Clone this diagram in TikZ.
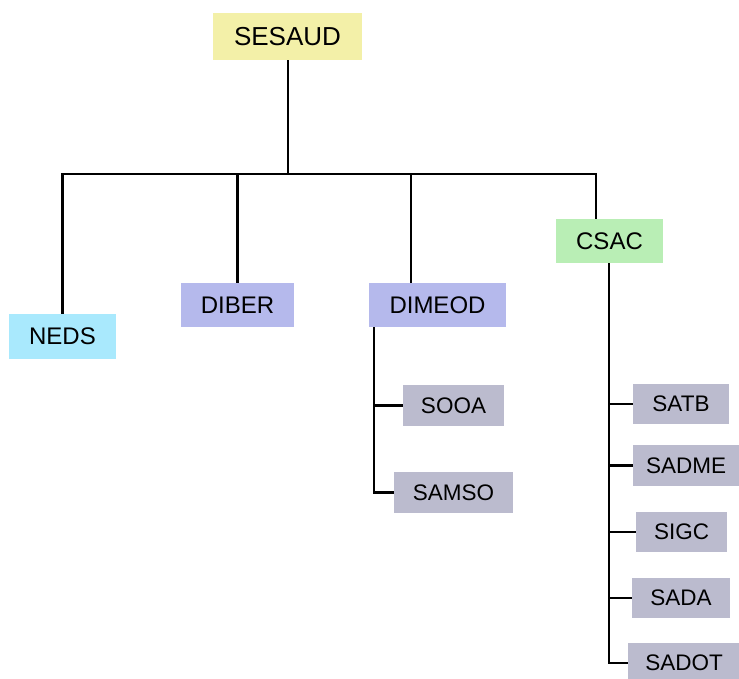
\documentclass[tikz,border=0pt]{standalone}
\usepackage{fontspec}
\setmainfont{Liberation Sans}
\definecolor{topyellow}{HTML}{F3F0A8}
\definecolor{unitcyan}{HTML}{A9E9FD}
\definecolor{unitblue}{HTML}{B5B9EC}
\definecolor{unitgreen}{HTML}{B9EEB5}
\definecolor{subgray}{HTML}{BBBBCE}
\tikzset{
  orgbox/.style={rectangle, draw=none, inner sep=0pt, anchor=center,
    font=\fontsize{24}{28}\selectfont},
  subbox/.style={rectangle, draw=none, fill=subgray, inner sep=0pt, anchor=center,
    minimum height=40.5pt, font=\fontsize{22.5}{27}\selectfont},
  link/.style={draw=black, line width=2.4pt}
}
\begin{document}
\begin{tikzpicture}[x=1pt, y=-1pt]
\useasboundingbox (0,0) rectangle (739,679);
\begin{scope}
\clip (0,0) rectangle (739,679);
% top level
\node[orgbox, fill=topyellow, minimum width=149pt, minimum height=47pt,
  font=\fontsize{26}{30}\selectfont] (sesaud) at (287.5,36.5) {SESAUD};
% second level
\node[orgbox, fill=unitcyan, minimum width=107pt, minimum height=45pt] (neds) at (62.5,336.5) {NEDS};
\node[orgbox, fill=unitblue, minimum width=113pt, minimum height=44pt] (diber) at (237.5,305) {DIBER};
\node[orgbox, fill=unitblue, minimum width=137pt, minimum height=44pt] (dimeod) at (437.5,305) {DIMEOD};
\node[orgbox, fill=unitgreen, minimum width=107pt, minimum height=44pt] (csac) at (609.5,241) {CSAC};
% units under DIMEOD
\node[subbox, minimum width=101pt] (sooa) at (453.5,405.5) {SOOA};
\node[subbox, minimum width=119pt] (samso) at (453.5,492.5) {SAMSO};
% units under CSAC
\node[subbox, minimum width=96pt] (satb) at (681,404) {SATB};
\node[subbox, minimum width=106pt] (sadme) at (686,465.5) {SADME};
\node[subbox, minimum width=91pt] (sigc) at (681.5,532) {SIGC};
\node[subbox, minimum width=98pt] (sada) at (681,598) {SADA};
\node[subbox, minimum width=112pt] (sadot) at (684,663) {SADOT};

% main bus
\coordinate (bus) at (288,174);
\coordinate (dimeodtop) at ([xshift=-26.5pt]dimeod.north);
\coordinate (csactop) at ([xshift=-13.5pt]csac.north);
\draw[link] (sesaud.south -| bus) -- (bus);
\draw[link] (neds.north) |- (bus);
\draw[link] (csactop) |- (bus);
\draw[link] (diber.north) -- (diber.north |- bus);
\draw[link] (dimeodtop) -- (dimeodtop |- bus);

% DIMEOD branch
\coordinate (dtrunk) at ([xshift=-63.5pt]dimeod.south);
\draw[link] (dtrunk) |- (samso.west);
\draw[link] (sooa.west) -- (sooa.west -| dtrunk);

% CSAC branch
\coordinate (ctrunk) at ([xshift=-0.5pt]csac.south);
\draw[link] (ctrunk) |- (sadot.west);
\foreach \n in {satb, sadme, sigc, sada}
  \draw[link] (\n.west) -- (\n.west -| ctrunk);
\end{scope}
\end{tikzpicture}
\end{document}
